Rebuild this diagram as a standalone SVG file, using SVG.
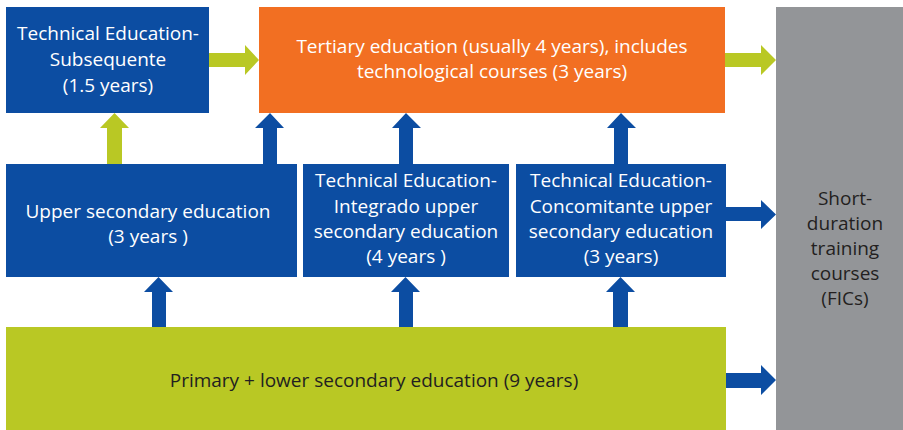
<svg xmlns="http://www.w3.org/2000/svg" width="903" height="430" viewBox="0 0 903 430">
<style>
.blue{fill:#0c4da2}
.orange{fill:#f26f22}
.green{fill:#b9c824}
.gray{fill:#939598}
text{font-family:"Open Sans","Noto Sans",sans-serif;font-size:19px;text-anchor:middle}
.w{fill:#ffffff}
.d{fill:#231f20}
</style>
<g id="connectors">
<polygon class="green" points="209,53 245,53 245,45 259,60 245,75 245,67 209,67"/>
<polygon class="green" points="725,53 761,53 761,45 776,60 761,75 761,67 725,67"/>
<polygon class="green" points="107,164 107,128 100,128 114.5,113 129,128 122,128 122,164"/>
<polygon class="blue" points="263,164 263,128 255,128 270,113 284,128 277,128 277,164"/>
<polygon class="blue" points="399,164 399,128 392,128 406,113 421,128 413,128 413,164"/>
<polygon class="blue" points="614,164 614,128 607,128 621,113 636,128 628,128 628,164"/>
<polygon class="blue" points="152,327 152,292 144,292 158.5,277 173,292 166,292 166,327"/>
<polygon class="blue" points="399,327 399,292 391,292 405.5,277 420,292 413,292 413,327"/>
<polygon class="blue" points="613,327 613,292 606,292 620.5,277 635,292 628,292 628,327"/>
<polygon class="blue" points="726,207 761,207 761,200 776,214.5 761,229 761,221 726,221"/>
<polygon class="blue" points="726,373 761,373 761,365 776,380 761,395 761,388 726,388"/>
</g>
<g id="subsequente">
<rect class="blue" x="6" y="7" width="203" height="106"/>
<text class="w" x="108" y="40">Technical Education-</text>
<text class="w" x="108" y="66">Subsequente</text>
<text class="w" x="108" y="92">(1.5 years)</text>
</g>
<g id="tertiary">
<rect class="orange" x="259" y="7" width="466" height="106"/>
<text class="w" x="492" y="53">Tertiary education (usually 4 years), includes</text>
<text class="w" x="492" y="78">technological courses (3 years)</text>
</g>
<g id="fic">
<rect class="gray" x="776" y="7" width="127" height="423"/>
<text class="d" x="845" y="205">Short-</text>
<text class="d" x="845" y="230">duration</text>
<text class="d" x="845" y="255">training</text>
<text class="d" x="845" y="280">courses</text>
<text class="d" x="845" y="305">(FICs)</text>
</g>
<g id="upper-secondary">
<rect class="blue" x="6" y="164" width="291" height="113"/>
<text class="w" x="148" y="218">Upper secondary education</text>
<text class="w" x="148" y="243">(3 years )</text>
</g>
<g id="integrado">
<rect class="blue" x="303" y="164" width="206" height="113"/>
<text class="w" x="406" y="187">Technical Education-</text>
<text class="w" x="406" y="213">Integrado upper</text>
<text class="w" x="406" y="238">secondary education</text>
<text class="w" x="406" y="263">(4 years )</text>
</g>
<g id="concomitante">
<rect class="blue" x="516" y="164" width="210" height="113"/>
<text class="w" x="621" y="187">Technical Education-</text>
<text class="w" x="621" y="213">Concomitante upper</text>
<text class="w" x="621" y="238">secondary education</text>
<text class="w" x="621" y="263">(3 years)</text>
</g>
<g id="primary">
<rect class="green" x="6" y="327" width="720" height="103"/>
<text class="d" x="374" y="387">Primary + lower secondary education (9 years)</text>
</g>
</svg>
